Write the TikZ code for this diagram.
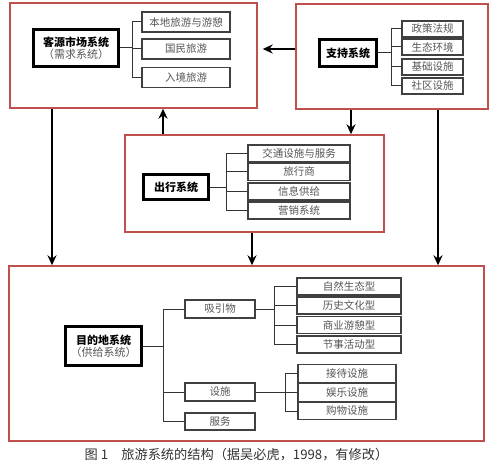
\documentclass[tikz,border=0pt]{standalone}
\usepackage{fontspec}
\setmainfont{Noto Sans CJK SC}
\usetikzlibrary{arrows.meta}

\definecolor{sysred}{RGB}{192,80,77}
\definecolor{itemgray}{RGB}{85,85,85}

\tikzset{
  sysbox/.style={draw=sysred, line width=1.4pt, inner sep=0pt},
  corebox/.style={draw=black, line width=3.4pt, fill=white, align=center,
    font=\bfseries\fontsize{11}{13}\selectfont},
  itembox/.style={draw=black!75, line width=1.1pt, inner sep=0pt, text=itemgray,
    font=\fontsize{10.5}{12}\selectfont},
  flow/.style={line width=2.2pt, -{Stealth[length=10pt,width=9pt]}},
  tie/.style={line width=1pt, draw=black!80},
}

\begin{document}
\begin{tikzpicture}[x=1pt,y=-1pt]
\useasboundingbox (0,0) rectangle (500,473);

% the four systems
\node[sysbox, minimum width=247pt, minimum height=105pt] (src) at (133.5,55.5) {};
\node[sysbox, minimum width=192pt, minimum height=105pt] (sup) at (392,56.5) {};
\node[sysbox, minimum width=259pt, minimum height=97pt] (mid) at (254.5,183.5) {};
\node[sysbox, minimum width=475pt, minimum height=175pt] (dst) at (246.5,353.5) {};

% source market
\node[corebox, minimum width=85pt, minimum height=37pt] (srccore) at (76,48)
  {客源市场系统\\[-1pt]{\mdseries\color{itemgray}（需求系统）}};
\node[itembox, minimum width=88pt, minimum height=20pt] (src1) at (186,22) {本地旅游与游憩};
\node[itembox, minimum width=88pt, minimum height=20pt] (src2) at (186,49) {国民旅游};
\node[itembox, minimum width=88pt, minimum height=20pt] (src3) at (186,77.5) {入境旅游};
\coordinate (srcfork) at (132,0 |- srccore.east);
\draw[tie] (srccore.east) -- (srcfork);
\foreach \n in {src1,src2,src3}
  \draw[tie] (srcfork) |- (\n.west);

% support
\node[corebox, minimum width=57pt, minimum height=27pt] (supcore) at (348,53) {支持系统};
\node[itembox, minimum width=61pt, minimum height=16pt] (sup1) at (432.5,29) {政策法规};
\node[itembox, minimum width=61pt, minimum height=16pt] (sup2) at (432.5,47) {生态环境};
\node[itembox, minimum width=61pt, minimum height=16pt] (sup3) at (432.5,67) {基础设施};
\node[itembox, minimum width=61pt, minimum height=16pt] (sup4) at (432.5,86) {社区设施};
\coordinate (supfork) at (391,0 |- supcore.east);
\draw[tie] (supcore.east) -- (supfork);
\foreach \n in {sup1,sup2,sup3,sup4}
  \draw[tie] (supfork) |- (\n.west);

% travel
\node[corebox, minimum width=65pt, minimum height=25pt] (midcore) at (176,187) {出行系统};
\node[itembox, minimum width=102pt, minimum height=17pt] (mid1) at (299,153.5) {交通设施与服务};
\node[itembox, minimum width=102pt, minimum height=17pt] (mid2) at (299,172) {旅行商};
\node[itembox, minimum width=102pt, minimum height=17pt] (mid3) at (299,191.5) {信息供给};
\node[itembox, minimum width=102pt, minimum height=17pt] (mid4) at (299,210.5) {营销系统};
\coordinate (midfork) at (226,0 |- midcore.east);
\draw[tie] (midcore.east) -- (midfork);
\foreach \n in {mid1,mid2,mid3,mid4}
  \draw[tie] (midfork) |- (\n.west);

% destination
\node[corebox, minimum width=76pt, minimum height=39pt] (dstcore) at (103.5,346)
  {目的地系统\\[-1pt]{\mdseries\color{itemgray}（供给系统）}};
\node[itembox, minimum width=70pt, minimum height=18pt] (att) at (220,309) {吸引物};
\node[itembox, minimum width=70pt, minimum height=18pt] (fac) at (220,392) {设施};
\node[itembox, minimum width=70pt, minimum height=17pt] (svc) at (220,421.5) {服务};
\coordinate (dstfork) at (163,0 |- dstcore.east);
\draw[tie] (dstcore.east) -- (dstfork);
\foreach \n in {att,fac,svc}
  \draw[tie] (dstfork) |- (\n.west);

\node[itembox, minimum width=104pt, minimum height=17pt] (att1) at (349,286.5) {自然生态型};
\node[itembox, minimum width=104pt, minimum height=17pt] (att2) at (349,305.5) {历史文化型};
\node[itembox, minimum width=104pt, minimum height=17pt] (att3) at (349,325) {商业游憩型};
\node[itembox, minimum width=104pt, minimum height=17pt] (att4) at (349,344.5) {节事活动型};
\coordinate (attfork) at (274,0 |- att.east);
\draw[tie] (att.east) -- (attfork);
\foreach \n in {att1,att2,att3,att4}
  \draw[tie] (attfork) |- (\n.west);

\node[itembox, minimum width=98pt, minimum height=18pt] (fac1) at (347,373.5) {接待设施};
\node[itembox, minimum width=98pt, minimum height=18pt] (fac2) at (347,392.5) {娱乐设施};
\node[itembox, minimum width=98pt, minimum height=17pt] (fac3) at (347,411) {购物设施};
\coordinate (facfork) at (285,0 |- fac.east);
\draw[tie] (fac.east) -- (facfork);
\foreach \n in {fac1,fac2,fac3}
  \draw[tie] (facfork) |- (\n.west);

% flows between systems
\draw[flow, shorten >=5pt] (sup.west |- 0,49) -- (src.east |- 0,49);
\draw[flow] (163,0 |- mid.north) -- (163,0 |- src.south);
\draw[flow] (351,0 |- sup.south) -- (351,0 |- mid.north);
\draw[flow] (438,0 |- sup.south) -- (438,0 |- dst.north);
\draw[flow] (52,0 |- src.south) -- (52,0 |- dst.north);
\draw[flow] (252,0 |- mid.south) -- (252,0 |- dst.north);

\node[text=black!80, font=\fontsize{13.2}{15}\selectfont] (cap) at (236.5,455)
  {图 1\quad 旅游系统的结构（据吴必虎，1998，有修改）};
\end{tikzpicture}
\end{document}
